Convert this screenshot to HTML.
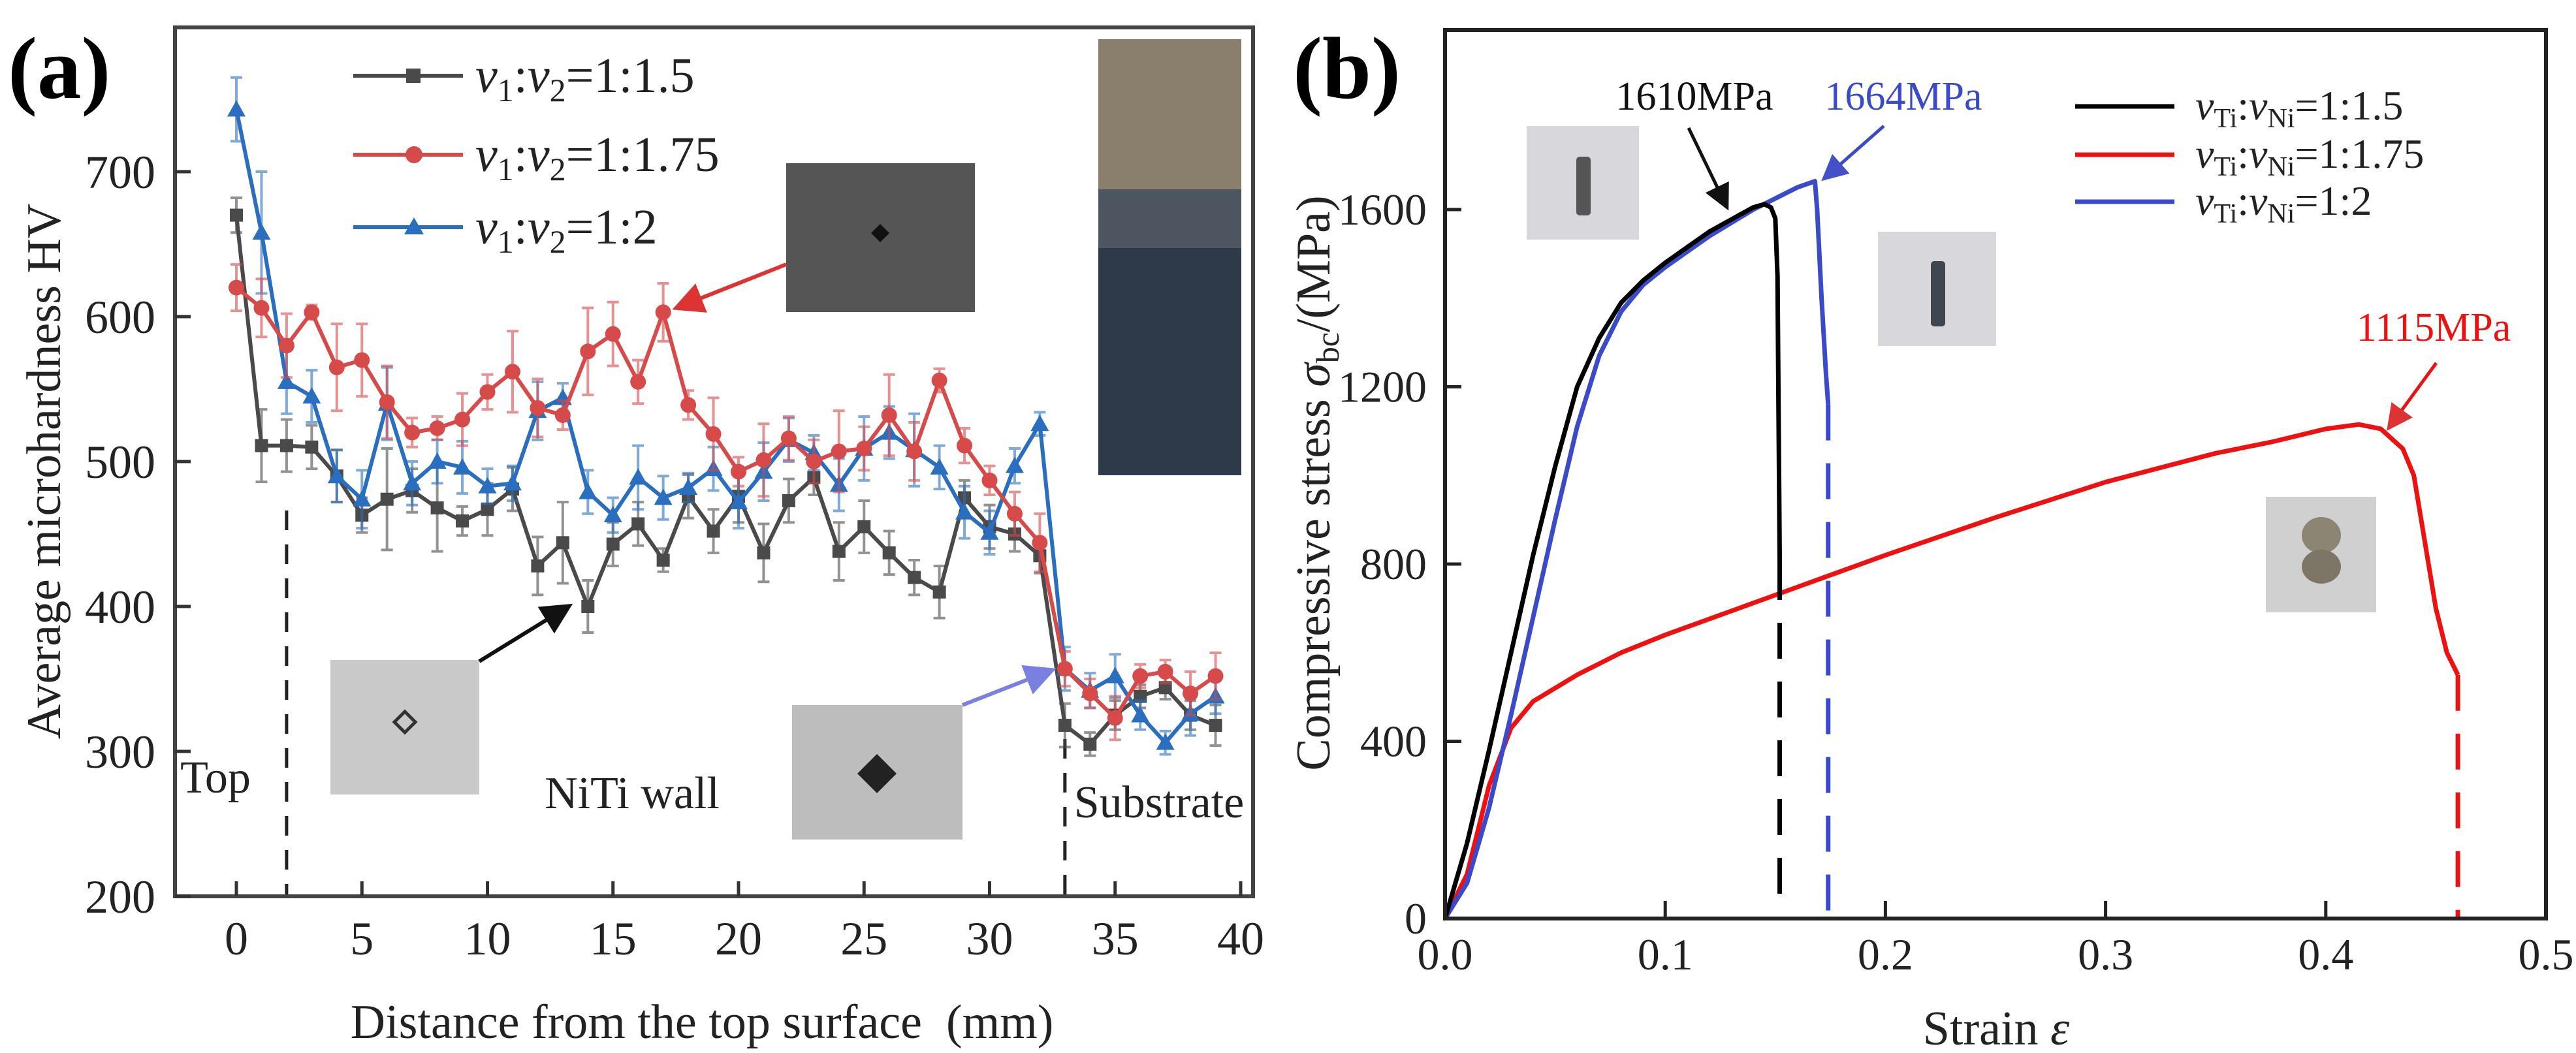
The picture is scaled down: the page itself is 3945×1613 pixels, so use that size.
<!DOCTYPE html>
<html><head><meta charset="utf-8"><style>
html,body{margin:0;padding:0;background:#fff;}
svg{display:block;font-family:"Liberation Serif",serif;}
svg text{font-family:"Liberation Serif",serif;}
</style></head><body>
<svg id="fig" width="3945" height="1613" viewBox="0 0 3945 1613" xmlns="http://www.w3.org/2000/svg" font-family="Liberation Serif, serif">
<defs>
<marker id="ahK" markerWidth="8" markerHeight="8" refX="7" refY="4" orient="auto" markerUnits="strokeWidth"><path d="M0,0 L8,4 L0,8 z" fill="#111"/></marker>
<marker id="ahR" markerWidth="8" markerHeight="8" refX="7" refY="4" orient="auto" markerUnits="strokeWidth"><path d="M0,0 L8,4 L0,8 z" fill="#d33"/></marker>
<marker id="ahB" markerWidth="8" markerHeight="8" refX="7" refY="4" orient="auto" markerUnits="strokeWidth"><path d="M0,0 L8,4 L0,8 z" fill="#4450c8"/></marker>
<marker id="ahL" markerWidth="8" markerHeight="8" refX="7" refY="4" orient="auto" markerUnits="strokeWidth"><path d="M0,0 L8,4 L0,8 z" fill="#7a80e0"/></marker>
</defs>
<g id="pa"></g>
<g id="pb"></g>
</svg>
<script>
// ---------- Panel (a) data ----------
const aDistance = [0,1,2,3,4,5,6,7,8,9,10,11,12,13,14,15,16,17,18,19,20,21,22,23,24,25,26,27,28,29,30,31,32,33,34,35,36,37,38,39];
const aHV15 = [670,511,511,510,490,463,474,480,468,459,467,481,428,444,400,443,457,432,476,452,476,437,473,489,438,455,437,420,410,475,455,450,435,318,305,325,338,344,325,318];
const aHV175 = [620,606,580,603,565,570,541,520,523,529,548,562,537,532,576,588,555,603,539,519,493,501,516,500,507,509,532,507,556,511,487,464,444,357,340,323,352,355,340,352];
const aHV2 = [743,658,555,545,490,474,540,485,500,496,483,485,535,544,479,463,489,475,482,495,472,493,515,506,484,509,520,508,496,465,451,497,526,357,342,352,325,306,326,338];
const aErr15 = [12,25,18,15,18,12,35,15,30,10,18,15,20,28,18,15,15,8,15,15,18,20,15,12,20,18,15,12,18,12,15,12,12,15,8,10,8,8,10,14];
const aErr175 = [16,20,22,5,30,25,25,10,8,18,12,28,20,10,30,22,15,20,10,25,10,25,15,15,28,15,28,20,8,12,10,15,20,12,10,15,8,8,15,16];
const aErr2 = [22,42,22,18,18,20,25,15,15,18,12,12,20,10,15,12,22,15,10,15,18,20,15,12,18,22,18,25,15,18,15,12,8,15,12,15,10,8,15,12];
const aXTicks = [0,5,10,15,20,25,30,35,40];
const aYTicks = [200,300,400,500,600,700];

// ---------- Panel (b) data ----------
const bStrain15 = [0,0.01,0.02,0.03,0.04,0.05,0.06,0.07,0.08,0.09,0.10,0.12,0.14,0.145,0.148,0.150,0.151,0.152];
const bStress15 = [0,170,380,600,820,1020,1200,1310,1390,1440,1480,1550,1605,1612,1605,1580,1450,800];
const bStrain2 = [0,0.01,0.02,0.03,0.04,0.05,0.06,0.07,0.08,0.09,0.10,0.12,0.14,0.16,0.168,0.169,0.171,0.173,0.174];
const bStress2 = [0,80,250,460,680,900,1110,1270,1370,1430,1470,1540,1600,1650,1664,1600,1400,1230,1160];
const bStrain175 = [0,0.01,0.02,0.03,0.04,0.06,0.08,0.10,0.15,0.20,0.25,0.30,0.35,0.375,0.40,0.415,0.425,0.435,0.44,0.445,0.45,0.455,0.46];
const bStress175 = [0,100,300,430,490,550,600,640,730,820,905,985,1050,1075,1105,1115,1105,1060,1000,850,700,600,550];
const bFracture = [0.152,0.174,0.46];
const bXTicks = [0,0.1,0.2,0.3,0.4,0.5];
const bYTicks = [0,400,800,1200,1600];

const NS="http://www.w3.org/2000/svg";
function mk(parent,tag,attrs,text){const e=document.createElementNS(NS,tag);for(const k in attrs)e.setAttribute(k,attrs[k]);if(text!==undefined)e.textContent=text;parent.appendChild(e);return e;}

// ===== Panel A =====
const pa=document.getElementById('pa');
const ax=v=>362+(v-0)*(1900-362)/40;
const ay=v=>1373-(v-200)*(1373-263)/500;
let t=mk(pa,'text',{x:12,y:150,'font-size':135,'font-weight':'bold'},'(a)');


function inset(p,x,y,w,h,fill,name){
 const g=mk(p,'g',{});
 
 
 mk(g,'rect',{x:x,y:y,width:w,height:h,fill:fill});
 return g;
}
let g1=inset(pa,1204,250,289,228,'#555','micrograph-inset-top');
mk(g1,'path',{d:'M1348,343 l14,14 l-14,14 l-14,-14 z',fill:'#111'});
let g2=inset(pa,506,1011,228,206,'#c9c9c9','micrograph-inset-wall');
mk(g2,'path',{d:'M620,1090 l16,16 l-16,16 l-16,-16 z',fill:'none',stroke:'#333','stroke-width':5});
let g3=inset(pa,1213,1080,261,206,'#bdbdbd','micrograph-inset-substrate');
mk(g3,'path',{d:'M1343,1155 l30,30 l-30,30 l-30,-30 z',fill:'#222'});
let g4=inset(pa,1682,60,219,668,'#2e3a4a','specimen-photo');
mk(g4,'rect',{x:1682,y:60,width:219,height:230,fill:'#8a7f6c'});
mk(g4,'rect',{x:1682,y:290,width:219,height:90,fill:'#4d5560'});
let d1=mk(pa,'line',{x1:ax(2),y1:782,x2:ax(2),y2:1373,stroke:'#222','stroke-width':5,'stroke-dasharray':'30,22'});

let d2=mk(pa,'line',{x1:ax(33),y1:1132,x2:ax(33),y2:1373,stroke:'#222','stroke-width':5,'stroke-dasharray':'30,22'});

function seriesA(vals,errs,color,marker,name){
 const g=mk(pa,'g',{});
 
 
 for(let i=0;i<vals.length;i++){
  const x=ax(aDistance[i]),y1=ay(vals[i]+errs[i]),y2=ay(vals[i]-errs[i]);
  mk(g,'path',{d:`M${x},${y1}V${y2}M${x-9},${y1}h18M${x-9},${y2}h18`,stroke:color,'stroke-width':4,'stroke-opacity':0.6,fill:'none'});
 }
 mk(g,'polyline',{points:vals.map((v,i)=>ax(aDistance[i])+','+ay(v)).join(' '),fill:'none',stroke:color,'stroke-width':6});
 for(let i=0;i<vals.length;i++){
  const x=ax(aDistance[i]),y=ay(vals[i]);let m;
  if(marker==='s')m=mk(g,'rect',{x:x-10,y:y-10,width:20,height:20,fill:color});
  else if(marker==='c')m=mk(g,'circle',{cx:x,cy:y,r:12,fill:color});
  else m=mk(g,'path',{d:`M${x},${y-14}L${x+14},${y+11}L${x-14},${y+11}z`,fill:color});
  
  
 }
}
seriesA(aHV15,aErr15,'#4a4a4a','s','series-1-1-5');
seriesA(aHV2,aErr2,'#2a6fbf','t','series-1-2');
seriesA(aHV175,aErr175,'#d64a4a','c','series-1-1-75');
let ar1=mk(pa,'line',{x1:1204,y1:405,x2:1035,y2:472,stroke:'#d33','stroke-width':6,'marker-end':'url(#ahR)'});

let ar2=mk(pa,'line',{x1:734,y1:1013,x2:872,y2:928,stroke:'#111','stroke-width':6,'marker-end':'url(#ahK)'});

let ar3=mk(pa,'line',{x1:1474,y1:1080,x2:1612,y2:1026,stroke:'#7a80e0','stroke-width':6,'marker-end':'url(#ahL)'});

let fa=mk(pa,'rect',{x:268,y:42,width:1651,height:1331,fill:'none',stroke:'#444','stroke-width':6});

aXTicks.forEach(v=>{mk(pa,'line',{x1:ax(v),y1:1373,x2:ax(v),y2:1350,stroke:'#333','stroke-width':5});
 const l=mk(pa,'text',{x:ax(v),y:1462,'font-size':72,'text-anchor':'middle',fill:'#222'},String(v));
 });
aYTicks.forEach(v=>{mk(pa,'line',{x1:268,y1:ay(v),x2:292,y2:ay(v),stroke:'#333','stroke-width':5});
 const l=mk(pa,'text',{x:238,y:ay(v)+25,'font-size':72,'text-anchor':'end',fill:'#222'},String(v));
 });
t=mk(pa,'text',{x:1075,y:1590,'font-size':74,'text-anchor':'middle',fill:'#222'},'Distance from the top surface\u00a0\u00a0(mm)');

t=mk(pa,'text',{x:0,y:0,'font-size':74,'text-anchor':'middle',fill:'#222',transform:'translate(92,722) rotate(-90)'},'Average microhardness HV');

[['Top',330,1214],['NiTi wall',968,1238],['Substrate',1775,1252]].forEach(([s,x,y])=>{
 const l=mk(pa,'text',{x:x,y:y,'font-size':70,'text-anchor':'middle',fill:'#222'},s);
 });
const legA=[['#4a4a4a','s','1:1.5',116],['#d64a4a','c','1:1.75',237],['#2a6fbf','t','1:2',348]];
legA.forEach(([c,m,r,y])=>{
 const g=mk(pa,'g',{});
 
 
 mk(g,'line',{x1:541,y1:y,x2:709,y2:y,stroke:c,'stroke-width':6});
 if(m==='s')mk(g,'rect',{x:622,y:y-11,width:22,height:22,fill:c});
 else if(m==='c')mk(g,'circle',{cx:634,cy:y,r:13,fill:c});
 else mk(g,'path',{d:`M634,${y-15}L649,${y+11}L619,${y+11}z`,fill:c});
 const tx=mk(g,'text',{x:728,y:y+25,'font-size':76,fill:'#222'});
 mk(tx,'tspan',{'font-style':'italic'},'v');mk(tx,'tspan',{'font-size':50,dy:14},'1');
 mk(tx,'tspan',{dy:-14},':');mk(tx,'tspan',{'font-style':'italic'},'v');
 mk(tx,'tspan',{'font-size':50,dy:14},'2');mk(tx,'tspan',{dy:-14},'='+r);
});

// ===== Panel B =====
const pb=document.getElementById('pb');
const bx=v=>2213+v*(3899-2213)/0.5;
const by=v=>1407-v*(1407-321)/1600;
t=mk(pb,'text',{x:1980,y:150,'font-size':135,'font-weight':'bold'},'(b)');

let p1=inset(pb,2338,193,172,174,'#d8d8dc','specimen-photo-1-5');
mk(p1,'rect',{x:2414,y:240,width:22,height:90,rx:5,fill:'#555'});
let p2=inset(pb,2876,355,181,175,'#d8d8dc','specimen-photo-1-2');
mk(p2,'rect',{x:2957,y:400,width:22,height:100,rx:5,fill:'#3e4650'});
let p3=inset(pb,3470,761,169,177,'#d0d0d0','specimen-photo-1-75');
mk(p3,'ellipse',{cx:3555,cy:820,rx:30,ry:28,fill:'#8d8573'});
mk(p3,'ellipse',{cx:3555,cy:868,rx:30,ry:26,fill:'#7d7565'});
function curveB(xs,ys,frac,color,name){
 const g=mk(pb,'g',{});
 
 
 mk(g,'polyline',{points:xs.map((x,i)=>bx(x)+','+by(ys[i])).join(' '),fill:'none',stroke:color,'stroke-width':7,'stroke-linejoin':'round'});
 mk(g,'line',{x1:bx(frac),y1:by(ys[ys.length-1]),x2:bx(frac),y2:by(0),stroke:color,'stroke-width':7,'stroke-dasharray':'55,35'});
}
curveB(bStrain175,bStress175,bFracture[2],'#ee1111','curve-1-1-75');
curveB(bStrain2,bStress2,bFracture[1],'#3b4bc8','curve-1-2');
curveB(bStrain15,bStress15,bFracture[0],'#000','curve-1-1-5');
let fb=mk(pb,'rect',{x:2213,y:46,width:1686,height:1361,fill:'none',stroke:'#222','stroke-width':6});

bXTicks.forEach(v=>{mk(pb,'line',{x1:bx(v),y1:1407,x2:bx(v),y2:1380,stroke:'#222','stroke-width':5});
 const l=mk(pb,'text',{x:bx(v),y:1485,'font-size':68,'text-anchor':'middle',fill:'#222'},v.toFixed(1));
 });
bYTicks.forEach(v=>{mk(pb,'line',{x1:2213,y1:by(v),x2:2238,y2:by(v),stroke:'#222','stroke-width':5});
 const l=mk(pb,'text',{x:2185,y:by(v)+23,'font-size':68,'text-anchor':'end',fill:'#222'},String(v));
 });
t=mk(pb,'text',{x:3057,y:1600,'font-size':74,'text-anchor':'middle',fill:'#222'});
mk(t,'tspan',{},'Strain ');mk(t,'tspan',{'font-style':'italic'},'ε');

t=mk(pb,'text',{x:0,y:0,'font-size':74,'text-anchor':'middle',fill:'#222',transform:'translate(2036,740) rotate(-90)'});
mk(t,'tspan',{},'Compressive stress ');mk(t,'tspan',{'font-style':'italic'},'σ');
mk(t,'tspan',{'font-size':50,dy:14},'bc');mk(t,'tspan',{dy:-14},'/(MPa)');

[['1610MPa',2595,168,'#111'],['1664MPa',2915,168,'#3b4bc8'],['1115MPa',3727,522,'#ee1111']].forEach(([s,x,y,c])=>{
 const l=mk(pb,'text',{x:x,y:y,'font-size':62,'text-anchor':'middle',fill:c},s);
 });
let b1=mk(pb,'line',{x1:2586,y1:196,x2:2645,y2:318,stroke:'#111','stroke-width':5,'marker-end':'url(#ahK)'});

let b2=mk(pb,'line',{x1:2885,y1:193,x2:2793,y2:274,stroke:'#3b4bc8','stroke-width':5,'marker-end':'url(#ahB)'});

let b3=mk(pb,'line',{x1:3731,y1:556,x2:3658,y2:656,stroke:'#ee1111','stroke-width':5,'marker-end':'url(#ahR)'});

const legB=[['#000','1:1.5',163],['#ee1111','1:1.75',237],['#3b4bc8','1:2',309]];
legB.forEach(([c,r,y])=>{
 const g=mk(pb,'g',{});
 
 
 mk(g,'line',{x1:3178,y1:y,x2:3330,y2:y,stroke:c,'stroke-width':7});
 const tx=mk(g,'text',{x:3362,y:y+20,'font-size':64,fill:'#222'});
 mk(tx,'tspan',{'font-style':'italic'},'v');mk(tx,'tspan',{'font-size':42,dy:12},'Ti');
 mk(tx,'tspan',{dy:-12},':');mk(tx,'tspan',{'font-style':'italic'},'v');
 mk(tx,'tspan',{'font-size':42,dy:12},'Ni');mk(tx,'tspan',{dy:-12},'='+r);
});
</script>
</body></html>
